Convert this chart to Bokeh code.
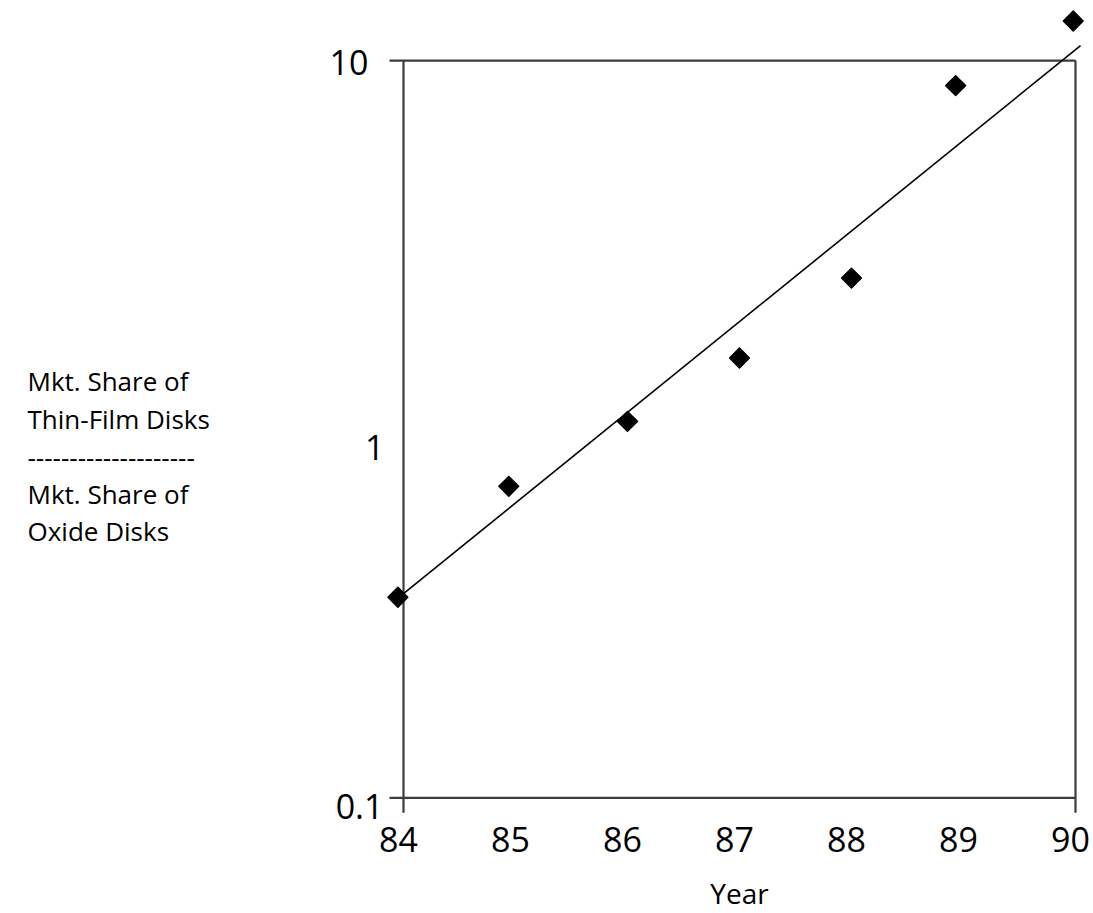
import math
from bokeh.plotting import figure
from bokeh.models import Range1d, Label
from bokeh.embed import file_html
from bokeh.resources import INLINE

# ---- data ----
year_pos = [83.95, 84.94, 86.0, 87.0, 88.0, 88.93, 89.98]   # plotted x position of each year
ratio = [0.35, 0.70, 1.05, 1.56, 2.57, 8.55, 12.8]          # thin-film / oxide share ratio
fit_x = [83.97, 90.045]                                      # trend line end points
fit_y = [0.352, 10.98]
x_ticks = [84, 85, 86, 87, 88, 89, 90]
x_tick_labels = ["84", "85", "86", "87", "88", "89", "90"]
y_ticks = [0.1, 1, 10]
y_tick_labels = ["0.1", "1", "10"]
y_title_lines = ["Mkt. Share of", "Thin-Film Disks", "--------------------", "Mkt. Share of", "Oxide Disks"]
x_title = "Year"

FONT = "Open Sans"
BOX = "#3c3c3c"
OVERHANG = 0.125       # horizontal box lines stick out left of the y axis (data units)
TICK_BOTTOM = 0.0911   # vertical box lines stick out below the x axis (data units)

p = figure(width=1090, height=913, output_backend="svg", toolbar_location=None,
           y_axis_type="log",
           x_range=Range1d(80.4018, 90.134), y_range=Range1d(0.04857, 14.55),
           min_border_left=0, min_border_right=0, min_border_top=0, min_border_bottom=0)
p.outline_line_color = None
p.xgrid.visible = False
p.ygrid.visible = False
p.xaxis.visible = False
p.yaxis.visible = False
p.background_fill_color = "white"
p.border_fill_color = "white"

# frame box drawn from the tick extremes
x0, x1 = x_ticks[0], x_ticks[-1]
y0, y1 = y_ticks[0], y_ticks[-1]
p.line([x0 - OVERHANG, x1], [y1, y1], line_color=BOX, line_width=2.2)
p.line([x0 - OVERHANG, x1], [y0, y0], line_color=BOX, line_width=2.2)
p.line([x0, x0], [TICK_BOTTOM, y1], line_color=BOX, line_width=2.2)
p.line([x1, x1], [TICK_BOTTOM, y1], line_color=BOX, line_width=2.2)

# trend line
p.line(fit_x, fit_y, line_color="black", line_width=1.6)

# data points
p.scatter(year_pos, ratio, marker="square", size=14, angle=math.pi / 4,
          fill_color="black", line_color="black", line_width=1.5, line_join="round")

# x tick labels
for t, l in zip(x_ticks, x_tick_labels):
    p.add_layout(Label(x=t, y=y0, text=l, x_offset=-5, y_offset=-42,
                       text_align="center", text_baseline="middle",
                       text_font=FONT, text_font_size="34px", text_color="black"))

# x title
p.add_layout(Label(x=(x0 + x1) / 2, y=y0, text=x_title, y_offset=-95,
                   text_align="center", text_baseline="middle",
                   text_font=FONT, text_font_size="28px", text_color="black"))

# y tick labels
y_lab_dx = [-20, -19, -35]
y_lab_dy = [-9, -18, -2]
for t, l, dx, dy in zip(y_ticks, y_tick_labels, y_lab_dx, y_lab_dy):
    p.add_layout(Label(x=x0, y=t, text=l, x_offset=dx, y_offset=dy,
                       text_align="right", text_baseline="middle",
                       text_font=FONT, text_font_size="34px", text_color="black"))

# y title (stacked lines, left of the plot)
title_dy = [48, 10, -29, -65, -102]
for l, dy in zip(y_title_lines, title_dy):
    p.add_layout(Label(x=x0, y=1, text=l, x_offset=-376, y_offset=dy,
                       text_align="left", text_baseline="middle",
                       text_font=FONT, text_font_size="26px", text_color="black"))

open("out.html", "w").write(file_html(p, INLINE))
